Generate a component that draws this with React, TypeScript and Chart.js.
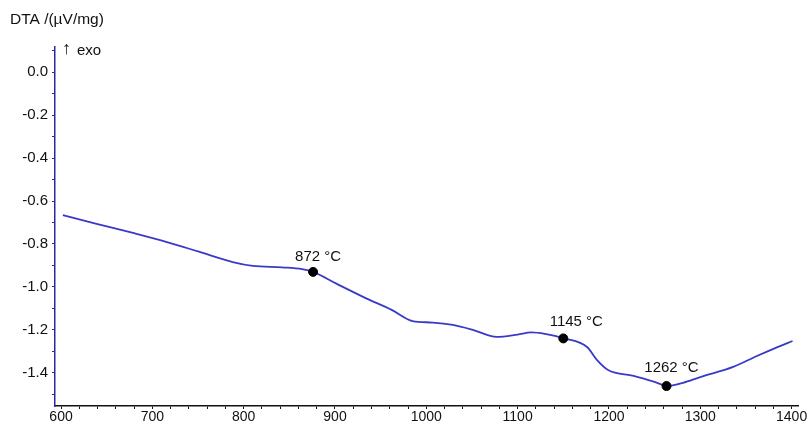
import React, { useEffect, useRef } from "react";
import { Chart, registerables } from "chart.js";

Chart.register(...registerables);

const temperatures = [602, 640, 681, 716, 751, 788, 810, 842, 864, 876, 902, 933, 962, 985, 1007, 1029, 1051, 1077, 1100, 1115, 1130, 1151, 1176, 1187, 1199, 1227, 1250, 1264, 1281, 1300, 1336, 1362, 1382, 1401];
const dtaValues = [-0.665, -0.707, -0.751, -0.791, -0.836, -0.884, -0.902, -0.909, -0.917, -0.93, -0.986, -1.051, -1.107, -1.159, -1.166, -1.177, -1.2, -1.233, -1.222, -1.212, -1.219, -1.24, -1.28, -1.341, -1.387, -1.415, -1.443, -1.462, -1.447, -1.42, -1.373, -1.322, -1.285, -1.252];

const markerTemps = [876, 1150, 1263];
const markerValues = [-0.93, -1.24, -1.462];
const markerLabels = ["872 °C", "1145 °C", "1262 °C"];

const yTickValues = [0.1, 0.0, -0.1, -0.2, -0.3, -0.4, -0.5, -0.6, -0.7, -0.8, -0.9, -1.0, -1.1, -1.2, -1.3, -1.4, -1.5];
const xTickValues = [600, 620, 640, 660, 680, 700, 720, 740, 760, 780, 800, 820, 840, 860, 880, 900, 920, 940, 960, 980, 1000, 1020, 1040, 1060, 1080, 1100, 1120, 1140, 1160, 1180, 1200, 1220, 1240, 1260, 1280, 1300, 1320, 1340, 1360, 1380, 1400];

const yTitle = "DTA /(µV/mg)";
const exoArrow = "↑";
const exoLabel = "exo";

const FONT = "'Liberation Sans', Arial, sans-serif";
const labelOffsets = [
  { dx: 5, dy: -15 },
  { dx: 13, dy: -17 },
  { dx: 5, dy: -18 },
];

const textPlugin = {
  id: "textPlugin",
  afterDatasetsDraw(chart: any) {
    const ctx = chart.ctx;
    const xs = chart.scales.x;
    const ys = chart.scales.y;
    ctx.save();
    ctx.fillStyle = "#111";
    ctx.font = `15px ${FONT}`;
    ctx.textBaseline = "middle";
    ctx.textAlign = "center";
    markerLabels.forEach((lab, i) => {
      const px = xs.getPixelForValue(markerTemps[i]);
      const py = ys.getPixelForValue(markerValues[i]);
      ctx.fillText(lab, px + labelOffsets[i].dx, py + labelOffsets[i].dy);
    });
    ctx.textAlign = "left";
    ctx.font = `15.5px ${FONT}`;
    ctx.fillText(yTitle, 10, 20);
    ctx.font = `18px ${FONT}`;
    ctx.fillText(exoArrow, 62, 49);
    ctx.font = `15px ${FONT}`;
    ctx.fillText(exoLabel, 77, 51);
    ctx.restore();
  },
};

export default function App() {
  const ref = useRef<HTMLCanvasElement>(null);
  useEffect(() => {
    document.body.style.margin = "0";
    const chart = new Chart(ref.current!, {
      type: "scatter",
      data: {
        datasets: [
          {
            data: temperatures.map((t, i) => ({ x: t, y: dtaValues[i] })),
            showLine: true,
            borderColor: "#3a3ac8",
            borderWidth: 1.8,
            pointRadius: 0,
            cubicInterpolationMode: "monotone",
            order: 2,
          } as any,
          {
            data: markerTemps.map((t, i) => ({ x: t, y: markerValues[i] })),
            showLine: false,
            pointRadius: 4.5,
            pointBackgroundColor: "#000",
            pointBorderColor: "#000",
            order: 1,
          },
        ],
      },
      options: {
        animation: false,
        responsive: false,
        maintainAspectRatio: false,
        layout: { padding: { top: 47, right: 12, left: 0, bottom: 0 } },
        plugins: { legend: { display: false }, tooltip: { enabled: false } },
        scales: {
          x: {
            type: "linear",
            min: 593.4,
            max: 1407,
            afterFit: (s: any) => { s.height = 21; },
            afterBuildTicks: (s: any) => { s.ticks = xTickValues.map((v) => ({ value: v })); },
            border: { color: "#111", width: 1.5 },
            grid: { display: true, drawOnChartArea: false, drawTicks: true, tickLength: 3, tickColor: "#111" },
            ticks: {
              autoSkip: false,
              maxRotation: 0,
              padding: 0,
              color: "#111",
              font: { family: FONT, size: 14 },
              callback: (v: any) => (Number(v) % 100 === 0 ? String(v) : ""),
            },
          },
          y: {
            type: "linear",
            min: -1.555,
            max: 0.118,
            afterFit: (s: any) => { s.width = 55; },
            afterBuildTicks: (s: any) => { s.ticks = yTickValues.map((v) => ({ value: v })); },
            border: { color: "#2a2aa8", width: 1.5 },
            grid: { display: true, drawOnChartArea: false, drawTicks: true, tickLength: 3, tickColor: "#2a2aa8" },
            ticks: {
              autoSkip: false,
              padding: 4,
              color: "#111",
              font: { family: FONT, size: 15 },
              callback: (v: any) => {
                const n = Math.round(Number(v) * 10);
                if (n % 2 !== 0 || n > 0) return "";
                return (n / 10).toFixed(1);
              },
            },
          },
        },
      },
      plugins: [textPlugin],
    });
    return () => chart.destroy();
  }, []);
  return (
    <div style={{ position: "fixed", left: 0, top: 0, width: 810, height: 427 }}>
      <canvas ref={ref} width={810} height={427} style={{ width: 810, height: 427 }} />
    </div>
  );
}
